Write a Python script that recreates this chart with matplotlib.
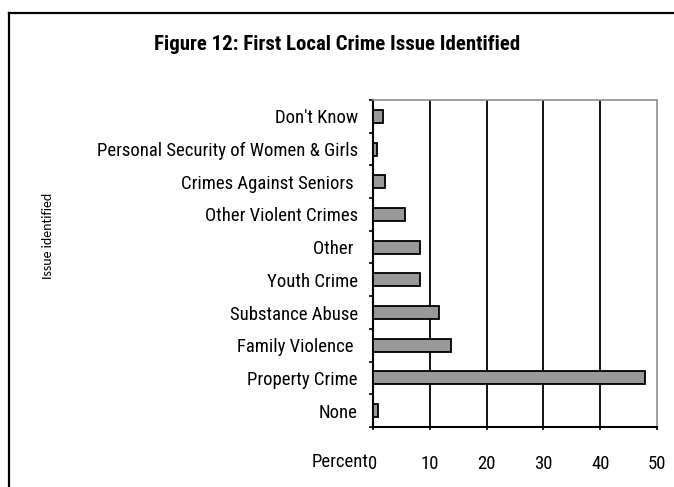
import numpy as np
import matplotlib
matplotlib.use("Agg")
import matplotlib.pyplot as plt
from matplotlib import ticker as tick
from matplotlib.lines import Line2D
from matplotlib import font_manager

names = set(f.name for f in font_manager.fontManager.ttflist)

def pick(options):
	for n in options:
		if n in names:
			return n
	return "DejaVu Sans"

# Arial Narrow look-alikes
NARROW = pick(["Liberation Sans Narrow", "Arial Narrow", "Roboto Condensed",
	"Archivo Narrow", "PT Sans Narrow", "Liberation Sans"])
NARROW_B = pick(["Liberation Sans Narrow", "Arial Narrow", "Roboto Condensed",
	"PT Sans Narrow", "Liberation Sans"])
PLAIN = pick(["Carlito", "Open Sans", "Liberation Sans"])

# bottom to top
issues = ["None", "Property Crime", "Family Violence ", "Substance Abuse",
	"Youth Crime", "Other ", "Other Violent Crimes", "Crimes Against Seniors ",
	"Personal Security of Women & Girls", "Don't Know"]
percent = [0.8, 47.9, 13.8, 11.6, 8.2, 8.2, 5.7, 2.2, 0.7, 1.8]
xticks = [0, 10, 20, 30, 40, 50]

W, H = 674, 487
fig = plt.figure(figsize=(W/100, H/100), dpi=100)

# outer frame (only top and left edges fall inside the image)
fig.add_artist(Line2D([8.5/W, 8.5/W], [0, 1-12.5/H], color='k', lw=1.6))
fig.add_artist(Line2D([8.5/W, 1], [1-12.5/H, 1-12.5/H], color='k', lw=1.6))

ax = fig.add_axes([373/W, 1-427/H, (657-373)/W, (427-100)/H])
y = np.arange(len(issues))
ax.barh(y, percent, height=0.4, color='#999999', edgecolor='k', lw=1.3, zorder=3)

F = 13.5
ax.set_xlim(0, 50)
ax.set_ylim(-0.5, len(issues)-0.5)
ax.set_xticks(xticks)
ax.set_xticklabels([str(v) for v in xticks], fontsize=F, family=NARROW)
ax.set_yticks(y)
ax.set_yticklabels(issues, fontsize=F, family=NARROW)
ax.yaxis.set_minor_locator(tick.FixedLocator(np.arange(len(issues)+1)-0.5))
ax.tick_params(axis='y', which='major', length=0, pad=11)
ax.tick_params(axis='y', which='minor', length=3, width=1.2, direction='out')
ax.tick_params(axis='x', length=2, width=1.2, pad=18, direction='out')

for v in xticks[1:-1]:
	ax.axvline(v, color='k', lw=1.3, zorder=1)

ax.spines['left'].set_linewidth(1.5)
ax.spines['bottom'].set_linewidth(1.5)
ax.spines['top'].set_color('#909090')
ax.spines['right'].set_color('#909090')
ax.spines['top'].set_linewidth(1.2)
ax.spines['right'].set_linewidth(1.2)

# "Percent" sits right against the 0 tick label
ax.annotate("Percent", xy=(0, 0), xycoords=('data', 'axes fraction'),
	xytext=(-3, -25), textcoords='offset points',
	fontsize=F, family=NARROW, ha='right', va='center')

fig.text(48/W, 1-236/H, "Issue identified", rotation=90, fontsize=10,
	family=PLAIN, ha='center', va='center')

fig.text(337/W, 1-45/H, "Figure 12: First Local Crime Issue Identified",
	fontsize=15, fontweight='bold', family=NARROW_B, ha='center', va='center')

plt.savefig("out.png", dpi=100)
